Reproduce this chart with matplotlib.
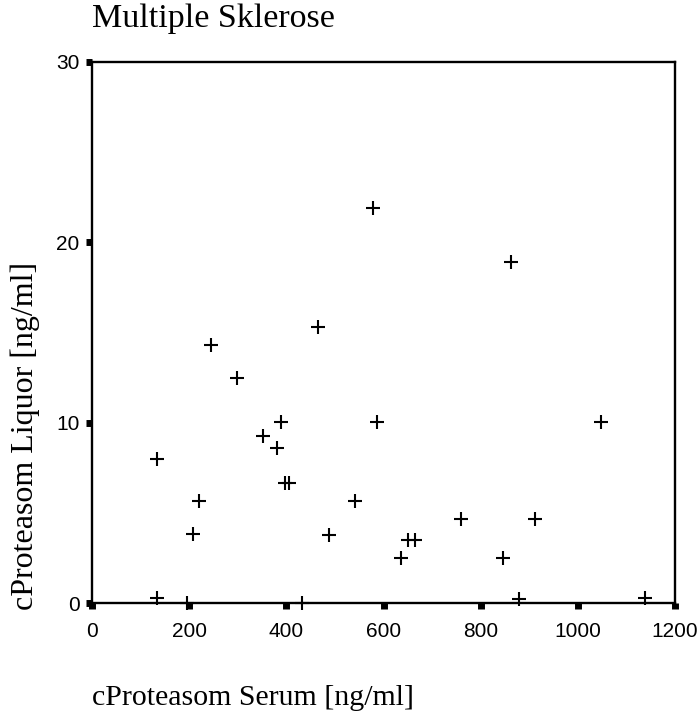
import matplotlib
matplotlib.use("Agg")
import matplotlib.pyplot as plt

# cProteasom values (Serum vs Liquor)
serum = [134, 134, 196, 433, 879, 1138, 245, 298, 389, 351, 380, 398, 405, 220, 207,
         578, 862, 465, 586, 1048, 541, 760, 912, 488, 651, 665, 636, 845]
liquor = [8.0, 0.3, 0.0, 0.0, 0.25, 0.3, 14.3, 12.5, 10.05, 9.3, 8.6, 6.7, 6.7, 5.7, 3.85,
          21.9, 18.9, 15.3, 10.05, 10.05, 5.7, 4.7, 4.7, 3.8, 3.5, 3.5, 2.5, 2.5]

xticks = [0, 200, 400, 600, 800, 1000, 1200]
yticks = [0, 10, 20, 30]

fig = plt.figure(figsize=(6.97, 7.15), dpi=100)
ax = fig.add_axes([0.132, 0.156, 0.8365, 0.7573])

ax.plot(serum, liquor, linestyle='none', marker='+', color='black',
        markersize=9.5, markeredgewidth=1.5, clip_on=False)

ax.set_xlim(0, 1200)
ax.set_ylim(0, 30)
ax.set_xticks(xticks)
ax.set_yticks(yticks)
for s in ax.spines.values():
    s.set_linewidth(1.7)
ax.tick_params(direction='out', length=4, width=5, labelsize=15)
ax.tick_params(axis='x', pad=9)
ax.tick_params(axis='y', pad=5)
for lbl in ax.get_xticklabels() + ax.get_yticklabels():
    lbl.set_family('Liberation Sans')

fig.text(0.132, 0.962, 'Multiple Sklerose', family='Liberation Serif',
         fontsize=24.5, ha='left', va='baseline')
fig.text(0.132, 0.014, 'cProteasom Serum [ng/ml]', family='Liberation Serif',
         fontsize=21.5, ha='left', va='baseline')
fig.text(0.036, 0.39, 'cProteasom Liquor [ng/ml]', family='Liberation Serif',
         fontsize=23, ha='center', va='center', rotation=90)

fig.savefig('out.png', dpi=100)
